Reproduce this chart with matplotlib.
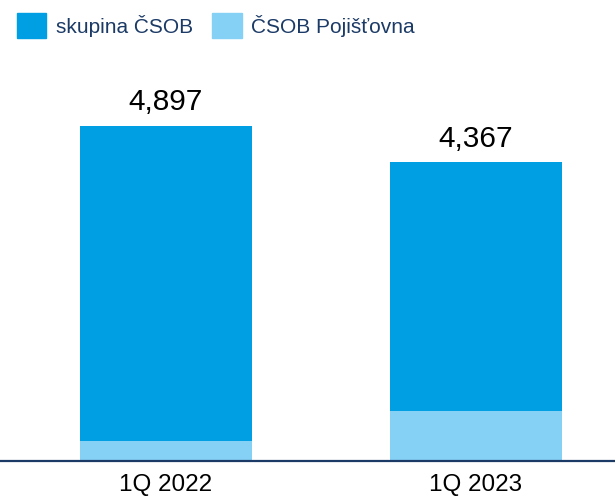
import matplotlib.pyplot as plt
from matplotlib.patches import Patch

plt.rcParams['font.family'] = ['Liberation Sans', 'DejaVu Sans']

quarters = ["1Q 2022", "1Q 2023"]
totals = [4897, 4367]
pojistovna = [292, 736]
skupina = [t - p for t, p in zip(totals, pojistovna)]

dark_blue = "#009fe3"
light_blue = "#85d0f5"
navy = "#1b3a66"

fig = plt.figure(figsize=(6.15, 4.97), dpi=100)
ax = fig.add_axes([0, 36 / 497, 1, 401 / 497])

x = range(len(quarters))
w = 0.555
ax.bar(x, pojistovna, width=w, color=light_blue)
ax.bar(x, skupina, width=w, bottom=pojistovna, color=dark_blue)

for xi, t in zip(x, totals):
    ax.annotate(f"{t:,}", (xi, t), xytext=(0, 7), textcoords="offset points",
                ha="center", va="bottom", fontsize=21.5, color="black")

ax.set_xlim(-0.535, 1.448)
ax.set_ylim(0, 5862)
ax.set_xticks(list(x))
ax.set_xticklabels(quarters, fontsize=17.5)
ax.tick_params(axis="x", length=0, pad=9)
ax.set_yticks([])
for s in ["top", "right", "left"]:
    ax.spines[s].set_visible(False)
ax.spines["bottom"].set_color(navy)
ax.spines["bottom"].set_linewidth(1.6)

handles = [Patch(color=dark_blue, label="skupina ČSOB"),
           Patch(color=light_blue, label="ČSOB Pojišťovna")]
leg = fig.legend(handles=handles, loc="upper left", ncol=2, frameon=False,
                 bbox_to_anchor=(17 / 615, 1 - 13 / 497), borderaxespad=0, borderpad=0,
                 fontsize=15, handlelength=1.4, handleheight=1.5,
                 handletextpad=0.45, columnspacing=0.95)
for t in leg.get_texts():
    t.set_color(navy)

fig.savefig("out.png", dpi=100)
